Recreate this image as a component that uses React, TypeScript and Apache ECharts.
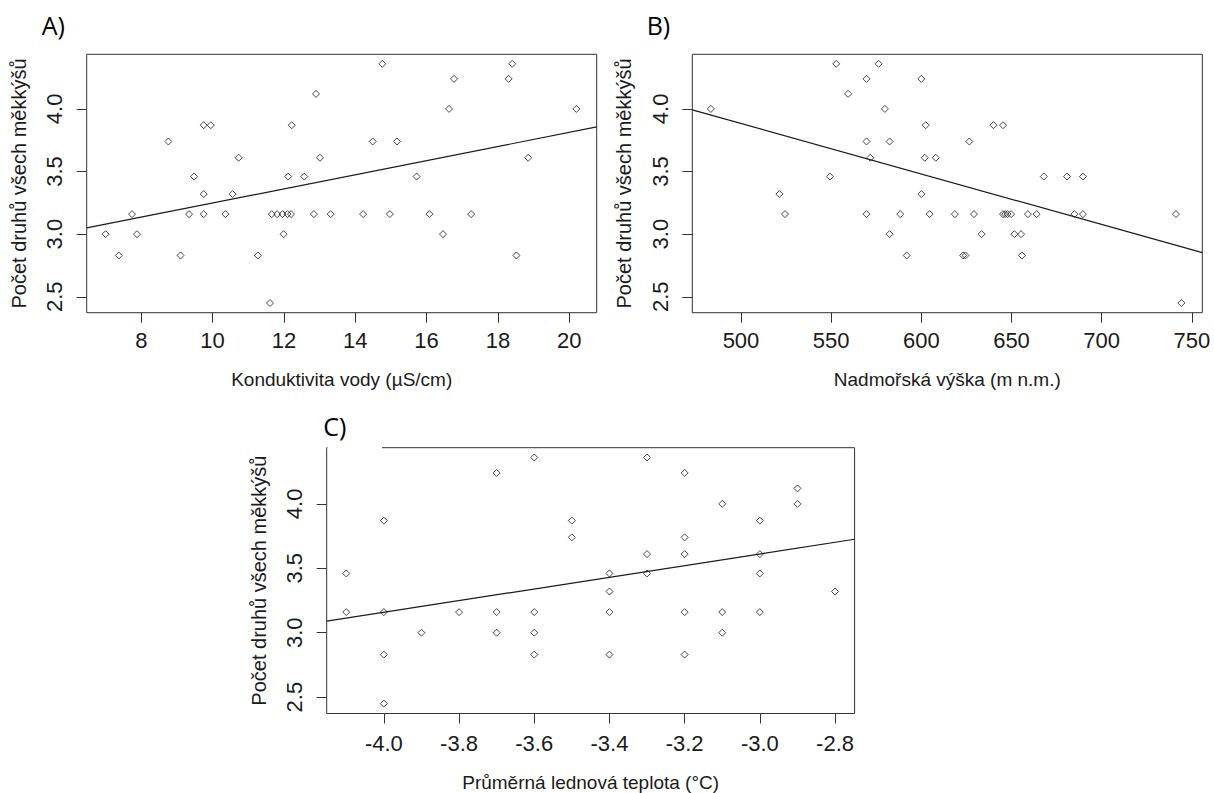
import React, { useEffect, useRef } from "react";
import * as echarts from "echarts";

// ---- Panel A: conductivity ----
const aX = [7.0, 7.37, 7.74, 7.88, 8.76, 9.10, 9.34, 9.48, 9.75, 9.75, 9.75, 9.95, 10.36, 10.56, 10.73, 11.27, 11.61, 11.66, 11.81, 11.96, 11.99, 12.12, 12.10, 12.20, 12.22, 12.57, 12.84, 12.90, 13.01, 13.31, 14.22, 14.49, 14.76, 14.97, 15.17, 15.72, 16.08, 16.46, 16.63, 16.77, 17.25, 18.30, 18.40, 18.52, 18.85, 20.20];
const aY = [3.00, 2.83, 3.16, 3.00, 3.74, 2.83, 3.16, 3.46, 3.32, 3.16, 3.87, 3.87, 3.16, 3.32, 3.61, 2.83, 2.45, 3.16, 3.16, 3.16, 3.00, 3.46, 3.16, 3.16, 3.87, 3.46, 3.16, 4.12, 3.61, 3.16, 3.16, 3.74, 4.36, 3.16, 3.74, 3.46, 3.16, 3.00, 4.00, 4.24, 3.16, 4.24, 4.36, 2.83, 3.61, 4.00];
const aTicks = [8, 10, 12, 14, 16, 18, 20];
const aRange = [6.47, 20.77];
const aFit = { intercept: 2.6854, slope: 0.05636 };

// ---- Panel B: altitude ----
const bX = [483.3, 521.3, 524.4, 549.3, 552.8, 559.4, 569.6, 569.6, 569.6, 571.7, 576.3, 579.8, 582.4, 582.4, 588.3, 591.9, 600.0, 600.0, 602.4, 601.9, 604.6, 608.0, 618.6, 623.2, 624.5, 626.6, 629.2, 633.4, 640.0, 645.3, 645.3, 646.5, 647.8, 649.8, 651.6, 655.3, 655.8, 659.1, 663.9, 667.9, 680.8, 684.9, 689.6, 689.6, 741.2, 744.2];
const bY = [4.00, 3.32, 3.16, 3.46, 4.36, 4.12, 4.24, 3.74, 3.16, 3.61, 4.36, 4.00, 3.74, 3.00, 3.16, 2.83, 4.24, 3.32, 3.87, 3.61, 3.16, 3.61, 3.16, 2.83, 2.83, 3.74, 3.16, 3.00, 3.87, 3.87, 3.16, 3.16, 3.16, 3.16, 3.00, 3.00, 2.83, 3.16, 3.16, 3.46, 3.46, 3.16, 3.46, 3.16, 3.16, 2.45];
const bTicks = [500, 550, 600, 650, 700, 750];
const bRange = [473.0, 755.8];
const bFit = { intercept: 5.8973, slope: -0.004028 };

// ---- Panel C: January temperature ----
const cX = [-4.1, -4.1, -4.0, -4.0, -4.0, -4.0, -3.9, -3.8, -3.7, -3.7, -3.7, -3.6, -3.6, -3.6, -3.6, -3.5, -3.5, -3.4, -3.4, -3.4, -3.4, -3.3, -3.3, -3.3, -3.2, -3.2, -3.2, -3.2, -3.2, -3.1, -3.1, -3.1, -3.0, -3.0, -3.0, -3.0, -2.9, -2.9, -2.8];
const cY = [3.46, 3.16, 3.87, 3.16, 2.83, 2.45, 3.00, 3.16, 4.24, 3.16, 3.00, 4.36, 3.16, 3.00, 2.83, 3.87, 3.74, 3.46, 3.32, 3.16, 2.83, 4.36, 3.61, 3.46, 4.24, 3.74, 3.61, 3.16, 2.83, 4.00, 3.16, 3.00, 3.87, 3.61, 3.46, 3.16, 4.12, 4.00, 3.32];
const cTicks = [-4.0, -3.8, -3.6, -3.4, -3.2, -3.0, -2.8];
const cRange = [-4.152, -2.748];
const cFit = { intercept: 4.969, slope: 0.4526 };

const yTicks = [2.5, 3.0, 3.5, 4.0];
const yRange = [2.373, 4.436];

const yTitle = "Počet druhů všech měkkýšů";
const xTitles = ["Konduktivita vody (µS/cm)", "Nadmořská výška (m n.m.)", "Průměrná lednová teplota (°C)"];
const panelLabels = ["A)", "B)", "C)"];

const FONT = '"Liberation Sans", Arial, sans-serif';
const INK = "#1a1a1a";

export default function App() {
  const ref = useRef<HTMLDivElement>(null);

  useEffect(() => {
    if (!ref.current) return;
    const chart = echarts.init(ref.current, undefined, { renderer: "svg" });

    const grids = [
      { left: 86.7, top: 54.3, width: 510, height: 258.4 },
      { left: 692.3, top: 54.3, width: 510, height: 258.4 },
      { left: 326.7, top: 447.7, width: 527.9, height: 266.6 },
    ];
    const xs = [aX, bX, cX];
    const ys = [aY, bY, cY];
    const ticks = [aTicks, bTicks, cTicks];
    const ranges = [aRange, bRange, cRange];
    const fits = [aFit, bFit, cFit];
    const labelMargins = [17, 17, 19];
    const nameGaps = [57, 57, 59.5];
    const fmt = [
      (v: number) => String(Math.round(v)),
      (v: number) => String(Math.round(v)),
      (v: number) => v.toFixed(1),
    ];

    const option: any = {
      animation: false,
      backgroundColor: "#ffffff",
      grid: grids.map((g) => ({
        ...g,
        show: true,
        borderColor: "#333",
        borderWidth: 1,
        backgroundColor: "transparent",
        containLabel: false,
      })),
      xAxis: [0, 1, 2].map((i) => ({
        type: "value",
        gridIndex: i,
        min: ranges[i][0],
        max: ranges[i][1],
        axisLine: { show: false },
        axisTick: {
          show: true,
          inside: false,
          length: 10,
          lineStyle: { color: "#333", width: 1 },
          customValues: ticks[i],
        },
        axisLabel: {
          customValues: ticks[i],
          margin: labelMargins[i],
          fontSize: 22,
          fontFamily: FONT,
          color: INK,
          formatter: fmt[i],
        },
        splitLine: { show: false },
        name: xTitles[i],
        nameLocation: "middle",
        nameGap: nameGaps[i],
        nameTextStyle: { fontSize: 19, fontFamily: FONT, color: INK },
      })),
      yAxis: [0, 1, 2].map((i) => ({
        type: "value",
        gridIndex: i,
        min: yRange[0],
        max: yRange[1],
        axisLine: { show: false },
        axisTick: {
          show: true,
          inside: false,
          length: 10,
          lineStyle: { color: "#333", width: 1 },
          customValues: yTicks,
        },
        axisLabel: {
          customValues: yTicks,
          rotate: 90,
          margin: 21,
          fontSize: 22,
          fontFamily: FONT,
          color: INK,
          formatter: (v: number) => v.toFixed(1),
        },
        splitLine: { show: false },
        name: yTitle,
        nameLocation: "middle",
        nameGap: 58,
        nameTextStyle: { fontSize: 20, fontFamily: FONT, color: INK },
      })),
      series: [
        ...[0, 1, 2].map((i) => ({
          type: "scatter",
          xAxisIndex: i,
          yAxisIndex: i,
          symbol: "diamond",
          symbolSize: 7,
          itemStyle: { color: "rgba(0,0,0,0)", borderColor: INK, borderWidth: 1 },
          data: xs[i].map((x, k) => [x, ys[i][k]]),
          silent: true,
        })),
        ...[0, 1, 2].map((i) => ({
          type: "line",
          xAxisIndex: i,
          yAxisIndex: i,
          symbol: "none",
          lineStyle: { color: INK, width: 1.2 },
          silent: true,
          data: ranges[i].map((x) => [x, fits[i].intercept + fits[i].slope * x]),
        })),
      ],
      graphic: [
        {
          type: "rect",
          z: 100,
          shape: { x: 327.5, y: 444.5, width: 54.5, height: 6 },
          style: { fill: "#ffffff" },
        },
        ...[
          [41.7, 25],
          [646.7, 25],
          [323.3, 425.5],
        ].map(([x, y], i) => ({
          type: "text",
          x,
          y,
          z: 101,
          style: {
            text: panelLabels[i],
            fontSize: 25,
            fontFamily: '"Open Sans", Lato, sans-serif',
            fill: "#000",
            align: "left",
            verticalAlign: "middle",
          },
        })),
      ],
    };

    chart.setOption(option);
    return () => chart.dispose();
  }, []);

  return (
    <div
      ref={ref}
      style={{ position: "absolute", left: 0, top: 0, width: 1214, height: 793 }}
    />
  );
}
